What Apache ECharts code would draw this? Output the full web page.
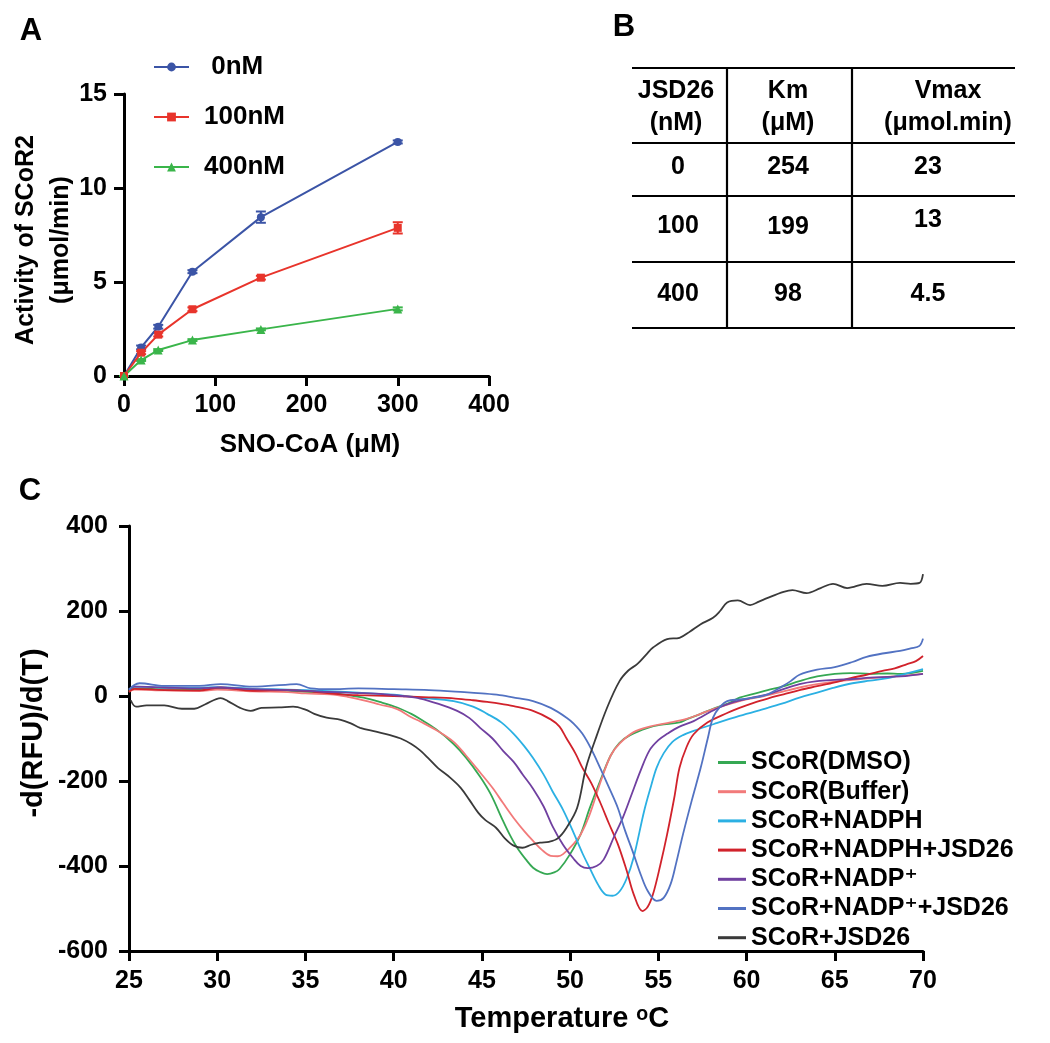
<!DOCTYPE html>
<html>
<head>
<meta charset="utf-8">
<script src="https://cdn.jsdelivr.net/npm/echarts@6/dist/echarts.min.js"></script>
<style>html,body{margin:0;padding:0;background:#fff}#c{width:1050px;height:1043px}</style>
</head>
<body>
<div id="c"></div>
<script>
// ---------- Panel A data ----------
const concA = [0, 18.75, 37.5, 75, 150, 300];
const act0 = [0, 1.52, 2.62, 5.55, 8.45, 12.45];
const act100 = [0, 1.24, 2.2, 3.55, 5.23, 7.88];
const act400 = [0, 0.85, 1.38, 1.91, 2.48, 3.57];
const err0 = [0, 0.1, 0.1, 0.08, 0.3, 0.08];
const err100 = [0, 0.08, 0.1, 0.1, 0.1, 0.3];
const err400 = [0, 0.05, 0.05, 0.05, 0.05, 0.08];
const namesA = [' 0nM', '100nM', '400nM'];

// ---------- Panel B data ----------
const tableHeader = ['JSD26\n(nM)', 'Km\n(μM)', 'Vmax\n(μmol.min)'];
const colJSD = ['0', '100', '400'];
const colKm = ['254', '199', '98'];
const colVmax = ['23', '13', '4.5'];

// ---------- Panel C data ----------
const namesC = ['SCoR(DMSO)', 'SCoR(Buffer)', 'SCoR+NADPH', 'SCoR+NADPH+JSD26', 'SCoR+NADP⁺', 'SCoR+NADP⁺+JSD26', 'SCoR+JSD26'];
const dmso = [[25,12],[25.3,18],[27,16],[29,15],[30,18],[32,14],[34,12],[35,10],[36.4,8],[37.4,2],[38.3,-4],[39.2,-14],[40.2,-27],[41,-42],[41.5,-54],[42.4,-78],[43.4,-113],[44.1,-145],[44.9,-190],[45.5,-231],[46.2,-294],[46.6,-328],[47,-357],[47.5,-385],[47.9,-404],[48.3,-414],[48.7,-419],[49.1,-415],[49.4,-407],[50,-372],[50.6,-325],[51.1,-265],[51.7,-200],[52.3,-140],[52.8,-110],[53.4,-92],[54.4,-75],[55.1,-68],[56.2,-62],[56.6,-55],[57.4,-42],[58.1,-30],[59.1,-15],[59.6,-4],[60.4,5],[61.2,14],[62,22],[63,35],[64,46],[65,52],[65.9,54],[67,52],[68,53],[68.7,52],[69.5,55],[70,59]];
const buffer = [[25,10],[25.3,15],[27,13],[29,12],[30,15],[32,11],[34,9],[35,6],[36.4,4],[37.4,-2],[38.3,-10],[39.2,-20],[40.2,-31],[41,-50],[41.5,-60],[42.4,-80],[43.4,-108],[44.1,-140],[44.9,-180],[45.6,-216],[46.2,-252],[46.8,-287],[47.4,-318],[47.9,-341],[48.4,-362],[48.9,-376],[49.3,-377],[49.6,-372],[50.2,-348],[50.6,-326],[51.1,-280],[51.7,-205],[52.3,-140],[52.8,-112],[53.6,-85],[54.5,-72],[55.5,-64],[56.6,-54],[57.4,-42],[58.1,-31],[59.1,-18],[60,-8],[61,0],[62,10],[63,20],[64,28],[65,34],[66,38],[67,42],[68,45],[69,48],[70,52]];
const nadph = [[25,15],[25.3,22],[27,20],[29,19],[30,21],[32,17],[34,15],[36,12],[38,8],[40,3],[41.5,-4],[43.4,-12],[44.5,-25],[45.3,-42],[46.1,-62],[46.8,-89],[47.4,-118],[47.9,-146],[48.5,-185],[49,-224],[49.6,-268],[50.2,-322],[50.7,-370],[51.1,-404],[51.6,-445],[52,-467],[52.4,-470],[52.8,-460],[53.2,-430],[53.6,-380],[54.2,-270],[54.6,-210],[54.9,-169],[55.3,-135],[55.8,-108],[56.4,-92],[57,-82],[58.3,-64],[59.6,-47],[61.2,-28],[62,-18],[63,-4],[64,8],[64.9,19],[66,30],[67,36],[68,42],[69,52],[70,63]];
const nadphJ = [[25,10],[25.3,17],[27,14],[29,13],[30.2,20],[32,12],[34,14],[35.5,10],[37,4],[38,2],[40,0],[42,-3],[43.5,-6],[44.5,-10],[45.3,-14],[46,-18],[46.8,-24],[47.9,-35],[48.9,-55],[49.4,-72],[49.8,-100],[50.3,-135],[50.7,-169],[51.2,-205],[51.7,-250],[52.2,-300],[52.7,-348],[53.2,-410],[53.6,-466],[54.1,-506],[54.4,-496],[54.7,-466],[55.1,-400],[55.5,-325],[55.9,-240],[56.2,-169],[56.6,-120],[57,-90],[57.8,-62],[58.9,-40],[59.6,-28],[60.4,-16],[61.2,-6],[62.1,4],[63,14],[64,23],[65,32],[65.9,42],[66.8,50],[67.7,59],[68.4,65],[69.1,75],[69.6,82],[70,94]];
const nadp = [[25,15],[25.3,22],[27,20],[29,18],[30,20],[32,16],[34,14],[36,10],[38,7],[39.5,4],[40.5,0],[41.5,-6],[42.5,-18],[43.6,-35],[44.3,-52],[44.9,-75],[45.6,-100],[46.2,-129],[46.8,-155],[47.3,-184],[47.9,-218],[48.5,-260],[49,-306],[49.6,-350],[50.2,-383],[50.6,-400],[51,-405],[51.5,-400],[51.9,-385],[52.5,-330],[53,-285],[53.5,-230],[54,-175],[54.5,-128],[55,-104],[55.5,-89],[56.2,-72],[57,-59],[58.3,-30],[59.3,-14],[60.2,-5],[61.2,4],[62,15],[63,28],[64,35],[65,38],[66,40],[67,43],[68,45],[69,47],[70,52]];
const nadpJ = [[25,15],[25.3,26],[25.6,30],[27,24],[29,24],[30.2,28],[32,22],[34,27],[34.5,28],[35.3,18],[36.4,16],[38,18],[40,16],[42,14],[44,9],[45,6],[46,2],[47,-5],[47.9,-12],[48.9,-28],[49.8,-51],[50.2,-65],[50.7,-89],[51.2,-125],[51.7,-169],[52.2,-215],[52.7,-263],[53.1,-315],[53.6,-372],[54,-420],[54.4,-459],[54.9,-482],[55.3,-475],[55.7,-442],[56,-395],[56.4,-325],[56.9,-245],[57.4,-169],[57.8,-100],[58.1,-51],[58.5,-25],[58.9,-12],[59.6,-8],[60.4,-4],[61.2,4],[62,22],[62.5,35],[63,50],[64,62],[65,68],[66,80],[66.8,92],[67.7,100],[68.7,106],[69.3,112],[69.8,118],[70,135]];
const jsd = [[25.1,-10],[25.4,-25],[26,-22],[27,-22],[28,-30],[28.7,-30],[29.3,-20],[30.2,-5],[30.6,-12],[31.3,-28],[31.9,-35],[32.5,-28],[33.5,-27],[34.3,-25],[35,-32],[35.5,-42],[36.2,-51],[37,-56],[37.6,-65],[38.1,-75],[39,-84],[39.8,-92],[40.4,-100],[41,-113],[41.5,-128],[42,-148],[42.5,-169],[43.2,-192],[43.8,-216],[44.3,-245],[44.8,-275],[45.2,-292],[45.8,-310],[46.3,-335],[46.8,-352],[47.3,-357],[47.8,-350],[48.3,-345],[48.8,-343],[49.3,-335],[49.8,-310],[50.4,-263],[50.9,-169],[51.4,-106],[52.1,-27],[52.8,35],[53.3,60],[53.8,75],[54.3,97],[54.7,114],[55.5,134],[56.2,137],[56.8,152],[57.4,169],[58.1,184],[58.5,200],[58.9,220],[59.5,225],[60.2,214],[60.7,222],[61.2,231],[62.1,245],[62.6,249],[63.4,242],[64.2,254],[64.9,264],[65.7,254],[66.8,264],[67.7,259],[68.7,266],[69.3,264],[69.8,266],[70,287]];
const curvesC = [dmso, buffer, nadph, nadphJ, nadp, nadpJ, jsd];

// ---------- styles ----------
const FONT = '"Liberation Sans", Arial, Helvetica, "DejaVu Sans", sans-serif';
const colorsA = ['#3b54a6', '#e8342b', '#3ab54a'];
const symbolsA = ['circle', 'rect', 'triangle'];
const colorsC = ['#35a853', '#f27a7a', '#2bb0e3', '#d1222b', '#7040a0', '#5272c2', '#3a3a3a'];

const axisLine = {show: true, onZero: false, lineStyle: {color: '#000', width: 3}};
const axisTick = {show: true, inside: false, length: 10, lineStyle: {color: '#000', width: 3}};
const tickLabel = {color: '#000', fontSize: 25, fontWeight: 'bold', fontFamily: FONT};

function errSeries(vals, errs, color) {
  return {
    type: 'custom', xAxisIndex: 0, yAxisIndex: 0, z: 1, silent: true,
    data: concA.map((x, i) => [x, vals[i] - errs[i], vals[i] + errs[i]]),
    encode: {x: 0, y: [1, 2]},
    renderItem: function (params, api) {
      const x = api.value(0);
      const lo = api.coord([x, api.value(1)]);
      const hi = api.coord([x, api.value(2)]);
      const w = 5;
      const st = {stroke: color, lineWidth: 2};
      return {type: 'group', children: [
        {type: 'line', shape: {x1: lo[0], y1: lo[1], x2: hi[0], y2: hi[1]}, style: st},
        {type: 'line', shape: {x1: lo[0] - w, y1: lo[1], x2: lo[0] + w, y2: lo[1]}, style: st},
        {type: 'line', shape: {x1: hi[0] - w, y1: hi[1], x2: hi[0] + w, y2: hi[1]}, style: st}
      ]};
    }
  };
}

const actsA = [act0, act100, act400];
const errsA = [err0, err100, err400];
const series = [];
actsA.forEach((vals, k) => {
  series.push(errSeries(vals, errsA[k], colorsA[k]));
  series.push({
    name: namesA[k], type: 'line', xAxisIndex: 0, yAxisIndex: 0, z: 3,
    data: concA.map((x, i) => [x, vals[i]]),
    symbol: symbolsA[k], symbolSize: k === 2 ? 9 : 8,
    itemStyle: {color: colorsA[k]},
    lineStyle: {color: colorsA[k], width: 2}
  });
});
curvesC.forEach((d, k) => {
  series.push({
    name: namesC[k], type: 'line', xAxisIndex: 1, yAxisIndex: 1,
    data: d, smooth: 0.35, showSymbol: false, symbol: 'none',
    itemStyle: {color: colorsC[k]},
    lineStyle: {color: colorsC[k], width: 1.8}
  });
});

// ---------- table graphic ----------
const graphic = [];
const tL = 632, tR = 1015;
const hLines = [68, 143, 196, 262, 328];
const vLines = [727, 852];
hLines.forEach(y => graphic.push({type: 'line', shape: {x1: tL, y1: y, x2: tR, y2: y}, style: {stroke: '#000', lineWidth: 2.2}}));
vLines.forEach(x => graphic.push({type: 'line', shape: {x1: x, y1: hLines[0], x2: x, y2: hLines[4]}, style: {stroke: '#000', lineWidth: 2.2}}));
const headX = [676, 788, 948];
tableHeader.forEach((t, i) => graphic.push({type: 'text', x: headX[i], y: 107, style: {text: t, font: 'bold 25px ' + FONT, fill: '#000', align: 'center', verticalAlign: 'middle', lineHeight: 32}}));
const cols = [colJSD, colKm, colVmax];
const colX = [678, 788, 928];
const rowYAdj = [[167, 167, 167], [226, 227, 220], [294, 294, 294]];
cols.forEach((col, c) => col.forEach((t, r) => graphic.push({type: 'text', x: colX[c], y: rowYAdj[r][c], style: {text: t, font: 'bold 25px ' + FONT, fill: '#000', align: 'center', verticalAlign: 'middle'}})));

// panel letters and axis titles
function txt(s, x, y, size, rot) {
  return {type: 'text', x: x, y: y, rotation: rot || 0, style: {text: s, font: 'bold ' + size + 'px ' + FONT, fill: '#000', align: 'center', verticalAlign: 'middle', lineHeight: 35}};
}
graphic.push(txt('A', 31, 31, 31));
graphic.push(txt('B', 624, 27, 31));
graphic.push(txt('C', 30, 491, 31));
graphic.push(txt('Activity of SCoR2\n(μmol/min)', 44, 240, 25, Math.PI / 2));
graphic.push(txt('SNO-CoA (μM)', 310, 445, 26));
graphic.push(txt('-d(RFU)/d(T)', 34, 733, 29, Math.PI / 2));
graphic.push(txt('Temperature ᵒC', 562, 1019, 29));

const option = {
  animation: false,
  backgroundColor: '#fff',
  textStyle: {fontFamily: FONT},
  grid: [
    {left: 124, top: 94, width: 365, height: 282},
    {left: 129, top: 526, width: 794, height: 425}
  ],
  xAxis: [
    {gridIndex: 0, type: 'value', min: 0, max: 400, interval: 100, axisLine: axisLine, axisTick: axisTick, axisLabel: Object.assign({margin: 17}, tickLabel), splitLine: {show: false}},
    {gridIndex: 1, type: 'value', min: 25, max: 70, interval: 5, axisLine: axisLine, axisTick: axisTick, axisLabel: Object.assign({margin: 18}, tickLabel), splitLine: {show: false}}
  ],
  yAxis: [
    {gridIndex: 0, type: 'value', min: 0, max: 15, interval: 5, axisLine: axisLine, axisTick: axisTick, axisLabel: Object.assign({margin: 17}, tickLabel), splitLine: {show: false}},
    {gridIndex: 1, type: 'value', min: -600, max: 400, interval: 200, axisLine: axisLine, axisTick: axisTick, axisLabel: Object.assign({margin: 21}, tickLabel), splitLine: {show: false}}
  ],
  legend: [
    {data: namesA, orient: 'vertical', left: 148, top: 49, itemWidth: 35, itemHeight: 11, itemGap: 24, selectedMode: false,
     textStyle: {fontSize: 26, fontWeight: 'bold', color: '#000', fontFamily: FONT, padding: [0, 0, 0, 10], lineHeight: 26}},
    {data: namesC.map(n => ({name: n, icon: 'rect'})), orient: 'vertical', left: 713, top: 745, itemWidth: 28, itemHeight: 3, itemGap: 4.2, selectedMode: false,
     textStyle: {fontSize: 25, fontWeight: 'bold', color: '#000', fontFamily: FONT, lineHeight: 25, padding: [0, 0, 0, 0]}}
  ],
  graphic: graphic,
  series: series
};

const chart = echarts.init(document.getElementById('c'), null, {renderer: 'canvas'});
chart.setOption(option);
</script>
</body>
</html>
